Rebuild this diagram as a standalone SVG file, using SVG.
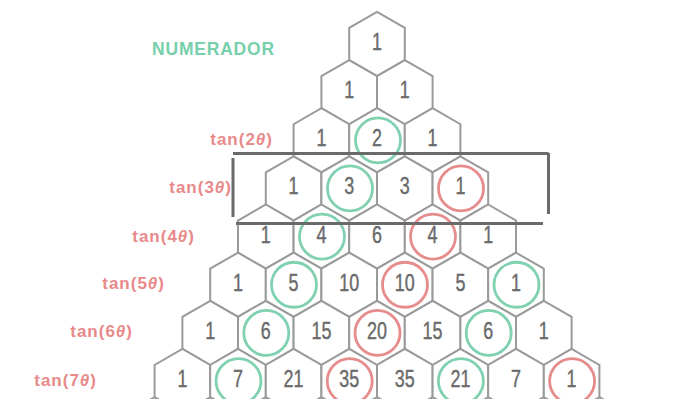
<svg xmlns="http://www.w3.org/2000/svg" xmlns:xlink="http://www.w3.org/1999/xlink" width="677" height="399" viewBox="0 0 677 399">
<style>
.hex{fill:#fff;stroke:#9a9a9a;stroke-width:2}
.n{font-family:"Liberation Sans",Arial,sans-serif;font-size:23px;fill:#6a6a6a;stroke:#6a6a6a;stroke-width:0.4;text-anchor:middle}
.lab{font-family:"Liberation Sans",Arial,sans-serif;font-size:17px;font-weight:bold;fill:#e88a8a;text-anchor:end;letter-spacing:1px}
.num{font-family:"Liberation Sans",Arial,sans-serif;font-size:17.5px;font-weight:bold;fill:#78cfab;letter-spacing:0.8px}
.cg{fill:none;stroke:#80d1b0;stroke-width:2.8}
.cr{fill:none;stroke:#e68c8c;stroke-width:2.8}
.frame{fill:none;stroke:#6a6a6a;stroke-width:3}
</style>
<defs>
<polygon id="hx" class="hex" points="0,-32.1 27.8,-16.05 27.8,16.05 0,32.1 -27.8,16.05 -27.8,-16.05"/>
</defs>
<rect width="677" height="399" fill="#fff"/>
<g id="row8">
<use href="#hx" x="154.6" y="429.2"/><use href="#hx" x="210.2" y="429.2"/><use href="#hx" x="265.8" y="429.2"/><use href="#hx" x="321.4" y="429.2"/><use href="#hx" x="377" y="429.2"/><use href="#hx" x="432.6" y="429.2"/><use href="#hx" x="488.2" y="429.2"/><use href="#hx" x="543.8" y="429.2"/><use href="#hx" x="599.4" y="429.2"/>
</g>
<g id="r0c0"><use href="#hx" x="377" y="44"/><text class="n" transform="translate(377,50) scale(0.78,1)">1</text></g>
<g id="r1c0"><use href="#hx" x="349.2" y="92.15"/><text class="n" transform="translate(349.2,98.15) scale(0.78,1)">1</text></g>
<g id="r1c1"><use href="#hx" x="404.8" y="92.15"/><text class="n" transform="translate(404.8,98.15) scale(0.78,1)">1</text></g>
<g id="r2c0"><use href="#hx" x="321.4" y="140.3"/><text class="n" transform="translate(321.4,146.3) scale(0.78,1)">1</text></g>
<g id="r2c1"><use href="#hx" x="377" y="140.3"/><circle class="cg" cx="378" cy="140.3" r="22.5"/><text class="n" transform="translate(377,146.3) scale(0.78,1)">2</text></g>
<g id="r2c2"><use href="#hx" x="432.6" y="140.3"/><text class="n" transform="translate(432.6,146.3) scale(0.78,1)">1</text></g>
<g id="r3c0"><use href="#hx" x="293.6" y="188.45"/><text class="n" transform="translate(293.6,194.45) scale(0.78,1)">1</text></g>
<g id="r3c1"><use href="#hx" x="349.2" y="188.45"/><circle class="cg" cx="350" cy="188.45" r="22.5"/><text class="n" transform="translate(349.2,194.45) scale(0.78,1)">3</text></g>
<g id="r3c2"><use href="#hx" x="404.8" y="188.45"/><text class="n" transform="translate(404.8,194.45) scale(0.78,1)">3</text></g>
<g id="r3c3"><use href="#hx" x="460.4" y="188.45"/><circle class="cr" cx="461" cy="188.45" r="22.5"/><text class="n" transform="translate(460.4,194.45) scale(0.78,1)">1</text></g>
<g id="r4c0"><use href="#hx" x="265.8" y="236.6"/><text class="n" transform="translate(265.8,242.6) scale(0.78,1)">1</text></g>
<g id="r4c1"><use href="#hx" x="321.4" y="236.6"/><circle class="cg" cx="322" cy="236.6" r="22.5"/><text class="n" transform="translate(321.4,242.6) scale(0.78,1)">4</text></g>
<g id="r4c2"><use href="#hx" x="377" y="236.6"/><text class="n" transform="translate(377,242.6) scale(0.78,1)">6</text></g>
<g id="r4c3"><use href="#hx" x="432.6" y="236.6"/><circle class="cr" cx="433" cy="236.6" r="22.5"/><text class="n" transform="translate(432.6,242.6) scale(0.78,1)">4</text></g>
<g id="r4c4"><use href="#hx" x="488.2" y="236.6"/><text class="n" transform="translate(488.2,242.6) scale(0.78,1)">1</text></g>
<g id="r5c0"><use href="#hx" x="238" y="284.75"/><text class="n" transform="translate(238,290.75) scale(0.78,1)">1</text></g>
<g id="r5c1"><use href="#hx" x="293.6" y="284.75"/><circle class="cg" cx="294" cy="284.75" r="22.5"/><text class="n" transform="translate(293.6,290.75) scale(0.78,1)">5</text></g>
<g id="r5c2"><use href="#hx" x="349.2" y="284.75"/><text class="n" transform="translate(349.2,290.75) scale(0.78,1)">10</text></g>
<g id="r5c3"><use href="#hx" x="404.8" y="284.75"/><circle class="cr" cx="405" cy="284.75" r="22.5"/><text class="n" transform="translate(404.8,290.75) scale(0.78,1)">10</text></g>
<g id="r5c4"><use href="#hx" x="460.4" y="284.75"/><text class="n" transform="translate(460.4,290.75) scale(0.78,1)">5</text></g>
<g id="r5c5"><use href="#hx" x="516" y="284.75"/><circle class="cg" cx="516.5" cy="284.75" r="22.5"/><text class="n" transform="translate(516,290.75) scale(0.78,1)">1</text></g>
<g id="r6c0"><use href="#hx" x="210.2" y="332.9"/><text class="n" transform="translate(210.2,338.9) scale(0.78,1)">1</text></g>
<g id="r6c1"><use href="#hx" x="265.8" y="332.9"/><circle class="cg" cx="266.3" cy="332.9" r="22.5"/><text class="n" transform="translate(265.8,338.9) scale(0.78,1)">6</text></g>
<g id="r6c2"><use href="#hx" x="321.4" y="332.9"/><text class="n" transform="translate(321.4,338.9) scale(0.78,1)">15</text></g>
<g id="r6c3"><use href="#hx" x="377" y="332.9"/><circle class="cr" cx="377.5" cy="332.9" r="22.5"/><text class="n" transform="translate(377,338.9) scale(0.78,1)">20</text></g>
<g id="r6c4"><use href="#hx" x="432.6" y="332.9"/><text class="n" transform="translate(432.6,338.9) scale(0.78,1)">15</text></g>
<g id="r6c5"><use href="#hx" x="488.2" y="332.9"/><circle class="cg" cx="488.7" cy="332.9" r="22.5"/><text class="n" transform="translate(488.2,338.9) scale(0.78,1)">6</text></g>
<g id="r6c6"><use href="#hx" x="543.8" y="332.9"/><text class="n" transform="translate(543.8,338.9) scale(0.78,1)">1</text></g>
<g id="r7c0"><use href="#hx" x="182.4" y="381.05"/><text class="n" transform="translate(182.4,387.05) scale(0.78,1)">1</text></g>
<g id="r7c1"><use href="#hx" x="238" y="381.05"/><circle class="cg" cx="238.5" cy="381.05" r="22.5"/><text class="n" transform="translate(238,387.05) scale(0.78,1)">7</text></g>
<g id="r7c2"><use href="#hx" x="293.6" y="381.05"/><text class="n" transform="translate(293.6,387.05) scale(0.78,1)">21</text></g>
<g id="r7c3"><use href="#hx" x="349.2" y="381.05"/><circle class="cr" cx="349.7" cy="381.05" r="22.5"/><text class="n" transform="translate(349.2,387.05) scale(0.78,1)">35</text></g>
<g id="r7c4"><use href="#hx" x="404.8" y="381.05"/><text class="n" transform="translate(404.8,387.05) scale(0.78,1)">35</text></g>
<g id="r7c5"><use href="#hx" x="460.4" y="381.05"/><circle class="cg" cx="460.9" cy="381.05" r="22.5"/><text class="n" transform="translate(460.4,387.05) scale(0.78,1)">21</text></g>
<g id="r7c6"><use href="#hx" x="516" y="381.05"/><text class="n" transform="translate(516,387.05) scale(0.78,1)">7</text></g>
<g id="r7c7"><use href="#hx" x="571.6" y="381.05"/><circle class="cr" cx="572.1" cy="381.05" r="22.5"/><text class="n" transform="translate(571.6,387.05) scale(0.78,1)">1</text></g>
<g id="labels">
<text class="num" x="152" y="55">NUMERADOR</text>
<text class="lab" x="273" y="145">tan(2<tspan font-style="italic">θ</tspan>)</text>
<text class="lab" x="232" y="193">tan(3<tspan font-style="italic">θ</tspan>)</text>
<text class="lab" x="195" y="242">tan(4<tspan font-style="italic">θ</tspan>)</text>
<text class="lab" x="165" y="289">tan(5<tspan font-style="italic">θ</tspan>)</text>
<text class="lab" x="133" y="337">tan(6<tspan font-style="italic">θ</tspan>)</text>
<text class="lab" x="97" y="386">tan(7<tspan font-style="italic">θ</tspan>)</text>
</g>
<g id="connectors">
<path class="frame" d="M233,153.5 H548.5 M233,158 V217 M548.5,153 V214 M236,223.5 H543"/>
</g>
</svg>
